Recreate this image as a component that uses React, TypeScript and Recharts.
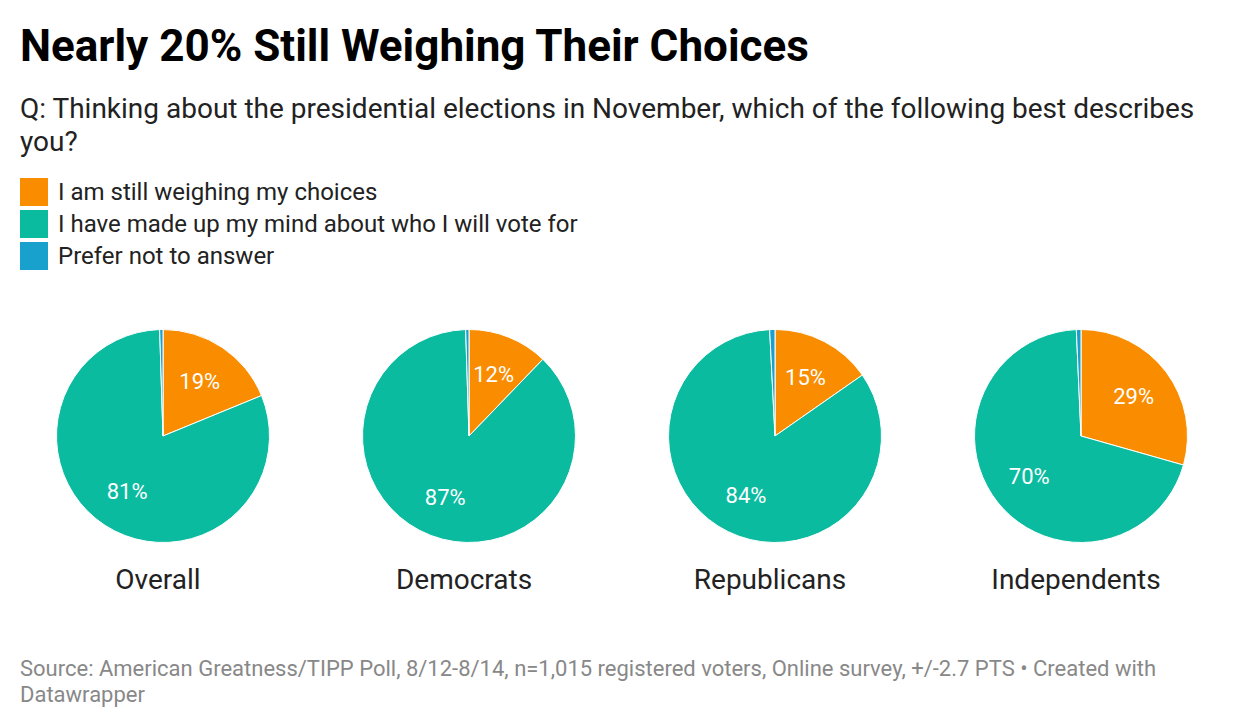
import React from "react";
import { PieChart, Pie, Cell } from "recharts";

const groups = ["Overall", "Democrats", "Republicans", "Independents"];
const answers = [
  "I am still weighing my choices",
  "I have made up my mind about who I will vote for",
  "Prefer not to answer",
];
const weighing = [18.8, 12.2, 15.3, 29.4];
const decided = [80.7, 87.3, 83.9, 69.9];
const preferNot = [0.5, 0.5, 0.8, 0.7];

const colors = ["#fa8c00", "#0abb9f", "#18a1cd"];
const FONT = "Roboto, 'Noto Sans', sans-serif";
const RADIAN = Math.PI / 180;

const renderLabel = (props: any) => {
  const { cx, cy, midAngle, outerRadius, value } = props;
  if (value < 5) return null;
  const r = outerRadius * 0.62;
  const x = cx + r * Math.cos(-midAngle * RADIAN);
  const y = cy + r * Math.sin(-midAngle * RADIAN);
  return (
    <text
      x={x}
      y={y}
      fill="#fff"
      textAnchor="middle"
      dominantBaseline="central"
      fontSize={22}
      fontFamily={FONT}
    >
      {Math.round(value)}%
    </text>
  );
};

export default function App() {
  return (
    <div
      style={{
        position: "relative",
        width: 1224,
        height: 712,
        fontFamily: FONT,
        background: "#fff",
        color: "#222",
      }}
    >
      <div
        style={{
          position: "absolute",
          left: 12,
          top: 12,
          fontSize: 44,
          fontWeight: 700,
          color: "#000",
          lineHeight: "52px",
          whiteSpace: "nowrap",
        }}
      >
        Nearly 20% Still Weighing Their Choices
      </div>
      <div
        style={{
          position: "absolute",
          left: 12,
          top: 84,
          width: 1190,
          fontSize: 28,
          lineHeight: "33px",
          color: "#222",
        }}
      >
        Q: Thinking about the presidential elections in November, which of the following best describes you?
      </div>
      <div style={{ position: "absolute", left: 12, top: 168 }}>
        {answers.map((a, i) => (
          <div
            key={a}
            style={{ display: "flex", alignItems: "center", height: 32, fontSize: 24 }}
          >
            <span
              style={{
                display: "inline-block",
                width: 28,
                height: 28,
                background: colors[i],
                marginRight: 10,
              }}
            />
            <span>{a}</span>
          </div>
        ))}
      </div>
      <div style={{ position: "absolute", left: -3, top: 308, display: "flex" }}>
        {groups.map((g, gi) => {
          const data = [
            { name: answers[0], value: weighing[gi] },
            { name: answers[1], value: decided[gi] },
            { name: answers[2], value: preferNot[gi] },
          ];
          return (
            <div key={g} style={{ width: 306, textAlign: "center" }}>
              <PieChart width={306} height={230}>
                <Pie
                  data={data}
                  dataKey="value"
                  cx={153}
                  cy={115}
                  outerRadius={106.5}
                  startAngle={90}
                  endAngle={-270}
                  stroke="#fff"
                  strokeWidth={1}
                  label={renderLabel}
                  labelLine={false}
                  isAnimationActive={false}
                >
                  {data.map((d, i) => (
                    <Cell key={d.name} fill={colors[i]} />
                  ))}
                </Pie>
              </PieChart>
              <div style={{ fontSize: 28, color: "#222", marginTop: 17 }}>{g}</div>
            </div>
          );
        })}
      </div>
      <div
        style={{
          position: "absolute",
          left: 12,
          top: 648,
          width: 1160,
          fontSize: 22,
          lineHeight: "26px",
          color: "#888",
        }}
      >
        Source: American Greatness/TIPP Poll, 8/12-8/14, n=1,015 registered voters, Online survey, +/-2.7 PTS • Created with Datawrapper
      </div>
    </div>
  );
}
